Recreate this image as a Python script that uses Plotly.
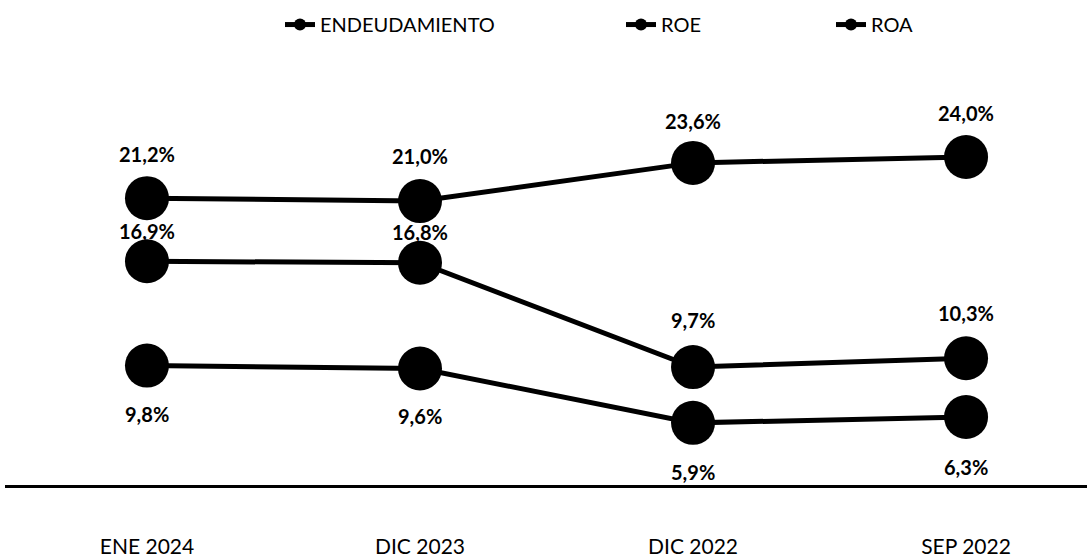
import plotly.graph_objects as go

categories = ["ENE 2024", "DIC 2023", "DIC 2022", "SEP 2022"]
endeudamiento = [21.2, 21.0, 23.6, 24.0]
roe = [16.9, 16.8, 9.7, 10.3]
roa = [9.8, 9.6, 5.9, 6.3]

series_names = ["ENDEUDAMIENTO", "ROE", "ROA"]
series_values = [endeudamiento, roe, roa]
# label offsets in px (positive = above)
label_shifts = [
    [44, 45, 42, 44],
    [30, 31, 47, 45],
    [-48, -47, -49, -50],
]
legend_ids = ["legend", "legend2", "legend3"]
legend_text_x = [322, 663, 873]

W, H = 1087, 558
ML, MR, MT, MB = 5, 0, 63, 67

fig = go.Figure()
x_idx = list(range(len(categories)))

for name, vals, lg in zip(series_names, series_values, legend_ids):
    fig.add_trace(go.Scatter(
        x=x_idx, y=vals, name=name, mode="lines+markers",
        line=dict(color="black", width=5),
        marker=dict(color="black", size=44),
        legend=lg, hoverinfo="skip",
    ))

for vals, shifts in zip(series_values, label_shifts):
    for xi, v, s in zip(x_idx, vals, shifts):
        fig.add_annotation(
            x=xi, y=v, text=f"{v:.1f}%".replace(".", ","),
            showarrow=False, yshift=s, xref="x", yref="y",
            font=dict(family="Lato", size=20, color="black", weight="bold"),
        )

plot_h = H - MT - MB
leg_common = dict(orientation="h", yanchor="middle", xanchor="left",
                  font=dict(family="Lato", size=20, color="black"),
                  itemsizing="constant", bgcolor="rgba(0,0,0,0)")
legend_y = (H - MB - 24) / plot_h
layout_legends = {}
for lg, tx in zip(legend_ids, legend_text_x):
    layout_legends[lg] = dict(x=(tx - 42 - ML) / (W - ML - MR), y=legend_y, **leg_common)

fig.update_layout(
    width=W, height=H,
    margin=dict(l=ML, r=MR, t=MT, b=MB),
    paper_bgcolor="white", plot_bgcolor="white",
    showlegend=True,
    **layout_legends,
)

fig.update_xaxes(
    tickvals=x_idx, ticktext=categories,
    range=[-0.520, 3.443],
    showgrid=False, zeroline=False,
    showline=True, linecolor="black", linewidth=2.5,
    ticks="", ticklabelstandoff=41,
    tickfont=dict(family="Lato", size=21, color="black"),
)
fig.update_yaxes(
    range=[1.67, 30.4], visible=False, showgrid=False, zeroline=False,
)

fig.write_html("out.html", config={"displayModeBar": False},
               post_script="document.body.style.margin='0px';")
